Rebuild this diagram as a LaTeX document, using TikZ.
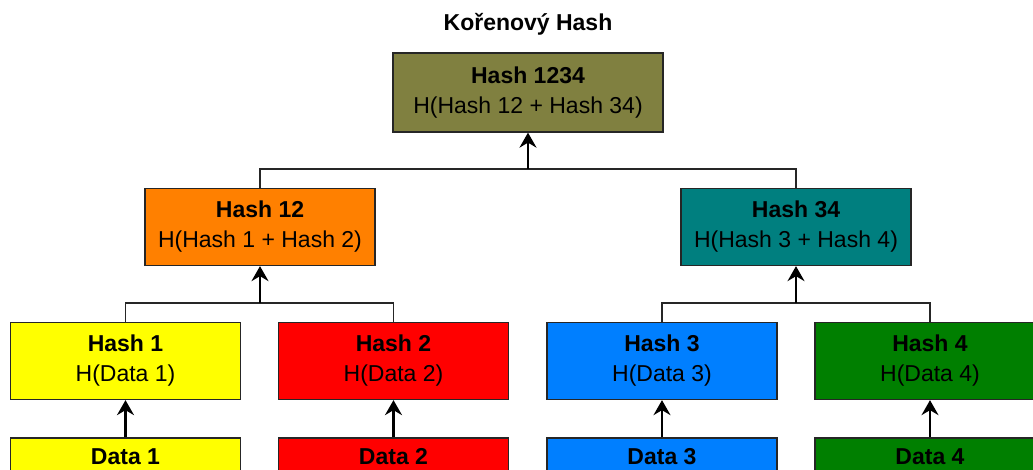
\documentclass[tikz,border=0pt]{standalone}
\usepackage{fontspec}
\setmainfont{Liberation Sans}
\usetikzlibrary{arrows.meta}
\definecolor{olivebox}{HTML}{808040}
\definecolor{orangebox}{HTML}{FF8000}
\definecolor{tealbox}{HTML}{007F7F}
\definecolor{yellowbox}{HTML}{FFFF00}
\definecolor{redbox}{HTML}{FF0000}
\definecolor{bluebox}{HTML}{007FFF}
\definecolor{greenbox}{HTML}{007F00}
\tikzset{
  hashbox/.style={draw=black!85, line width=1.3pt, minimum width=230pt,
    minimum height=77pt, inner sep=0pt, align=center,
    font=\fontsize{23}{30}\selectfont},
  databox/.style={draw=black!85, line width=1.3pt, minimum width=230pt,
    minimum height=38pt, inner sep=0pt, align=center,
    font=\fontsize{23}{30}\selectfont\bfseries},
  bus/.style={draw=black!85, line width=1.2pt},
  uparrow/.style={draw=black, line width=2.2pt,
    -{Stealth[length=15pt, width=17pt, inset=5pt]}}
}
\begin{document}
\begin{tikzpicture}[x=1pt, y=-1pt]
\useasboundingbox (0,0) rectangle (1033,470);
\clip (0,0) rectangle (1033,470);

% title
\node[font=\fontsize{23}{30}\selectfont\bfseries] (title) at (528,24) {Kořenový Hash};

% root
\node[hashbox, fill=olivebox, minimum width=270pt, minimum height=79pt] (root) at (528,92.5)
  {{\bfseries Hash 1234}\\H(Hash 12 + Hash 34)};

% second level
\node[hashbox, fill=orangebox] (h12) at (260,227) {{\bfseries Hash 12}\\H(Hash 1 + Hash 2)};
\node[hashbox, fill=tealbox] (h34) at (796,227) {{\bfseries Hash 34}\\H(Hash 3 + Hash 4)};

% leaf hashes
\node[hashbox, fill=yellowbox] (h1) at (125.5,361) {{\bfseries Hash 1}\\H(Data 1)};
\node[hashbox, fill=redbox] (h2) at (393.5,361) {{\bfseries Hash 2}\\H(Data 2)};
\node[hashbox, fill=bluebox] (h3) at (662,361) {{\bfseries Hash 3}\\H(Data 3)};
\node[hashbox, fill=greenbox] (h4) at (930,361) {{\bfseries Hash 4}\\H(Data 4)};

% data blocks
\node[databox, fill=yellowbox] (d1) at (125.5,457) {Data 1};
\node[databox, fill=redbox] (d2) at (393.5,457) {Data 2};
\node[databox, fill=bluebox] (d3) at (662,457) {Data 3};
\node[databox, fill=greenbox] (d4) at (930,457) {Data 4};

% junction points of the buses
\coordinate (jroot) at (528,169);
\coordinate (j12) at (260,303);
\coordinate (j34) at (796,303);

% buses
\draw[bus] (h12.north) |- (jroot) -| (h34.north);
\draw[bus] (h1.north) |- (j12) -| (h2.north);
\draw[bus] (h3.north) |- (j34) -| (h4.north);

% arrows
\draw[uparrow] (jroot) -- (root.south);
\draw[uparrow] (j12) -- (h12.south);
\draw[uparrow] (j34) -- (h34.south);
\draw[uparrow] (d1.north) -- (h1.south);
\draw[uparrow] (d2.north) -- (h2.south);
\draw[uparrow] (d3.north) -- (h3.south);
\draw[uparrow] (d4.north) -- (h4.south);
\end{tikzpicture}
\end{document}
